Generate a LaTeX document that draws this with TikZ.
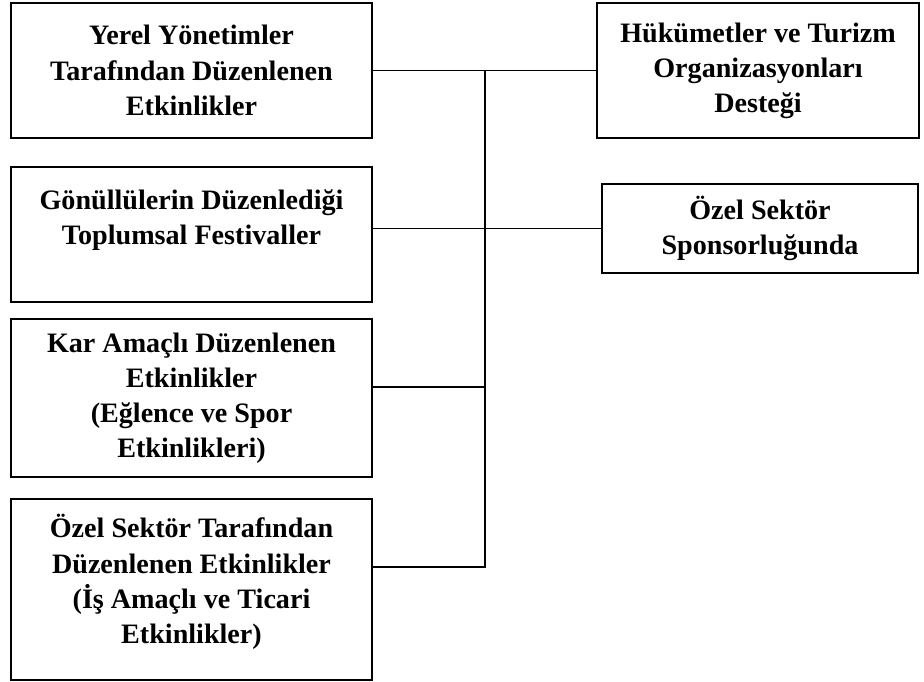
\documentclass[tikz,border=0pt]{standalone}
\usepackage{fontspec}
\setmainfont{Liberation Serif}
\usepackage{tikz}
\usetikzlibrary{calc, positioning}

\begin{document}
\begin{tikzpicture}[font=\fontsize{20}{25}\selectfont\bfseries,
    kutu/.style={draw, line width=1.1pt, align=center, inner sep=0pt},
    bag/.style={line width=1pt}]
        \useasboundingbox (0,0) rectangle (23.1,17.025);
        \node[kutu, minimum width=9.025cm, minimum height=3.375cm] (yerel) at (4.7875,15.2625)
          {Yerel Yönetimler\\Tarafından Düzenlenen\\Etkinlikler};
        \node[kutu, minimum width=9.025cm, minimum height=3.375cm] (gonullu) at (4.7875,11.1625)
          {Gönüllülerin Düzenlediği\\Toplumsal Festivaller\\\mbox{}};
        \node[kutu, minimum width=9.025cm, minimum height=3.95cm] (kar) at (4.7875,7.075)
          {Kar Amaçlı Düzenlenen\\Etkinlikler\\(Eğlence ve Spor\\Etkinlikleri)};
        \node[kutu, minimum width=9.025cm, minimum height=4.525cm] (ozel) at (4.7875,2.2875)
          {Özel Sektör Tarafından\\Düzenlenen Etkinlikler\\(İş Amaçlı ve Ticari\\Etkinlikler)\\[-0.35cm]\mbox{}};
        \node[kutu, minimum width=8.05cm, minimum height=3.375cm] (hukumet) at (18.95,15.2625)
          {Hükümetler ve Turizm\\Organizasyonları\\Desteği};
        \node[kutu, minimum width=7.9cm, minimum height=2.225cm] (sponsor) at (19,11.3125)
          {Özel Sektör\\Sponsorluğunda};
        % kollar
        \coordinate (kol) at (12.125,15.2625);
        \coordinate (k3) at (kar.east |- 0,7.35);
        \coordinate (k4) at (ozel.east |- 0,2.85);
        \draw[bag] (yerel.east) -- (hukumet.west);
        \draw[bag] (gonullu.east |- sponsor.west) -- (sponsor.west);
        \draw[bag] (k4) -| (kol);
        \draw[bag] (k3) -- (k3 -| kol);
      \end{tikzpicture}
\end{document}
